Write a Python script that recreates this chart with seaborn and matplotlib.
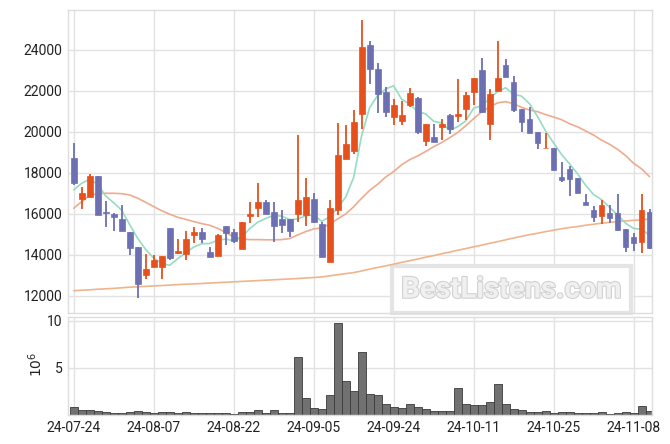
import numpy as np
import pandas as pd
import matplotlib
matplotlib.use("Agg")
import matplotlib.pyplot as plt
import matplotlib.patheffects as pe
import seaborn as sns

# trading-day index 0..72, labelled every 10 sessions
tick_pos = [0, 10, 20, 30, 40, 50, 60, 70]
tick_labels = ["24-07-24", "24-08-07", "24-08-22", "24-09-05",
               "24-09-24", "24-10-11", "24-10-25", "24-11-08"]

opens = [18720, 16750, 16850, 17850, 16110, 15990, 15740, 15120, 14390, 13040,
         13430, 13430, 15300, 14110, 14060, 14990, 15120, 14150, 13970, 15400,
         15120, 14290, 15890, 16280, 16570, 16080, 15760, 15760, 15990, 15950,
         16730, 15510, 13640, 16200, 18680, 19090, 20860, 24240, 23060, 21940,
         20750, 20550, 21330, 21640, 19580, 19770, 20260, 20830, 20800, 21140,
         21940, 23020, 20390, 22020, 23270, 22420, 21110, 20620, 20000, 19200,
         19210, 17810, 18180, 17740, 16590, 16200, 15920, 16030, 16030, 15250,
         14880, 14650, 16080]
highs = [19450, 17300, 17970, 17850, 16630, 16030, 16420, 15120, 14390, 14060,
         14000, 13950, 15300, 14780, 15170, 15380, 15300, 14400, 15000, 15400,
         15250, 15610, 16570, 17500, 16680, 16600, 16180, 15760, 19850, 17740,
         17040, 15630, 16680, 20420, 20340, 21070, 25460, 24450, 23350, 22210,
         21600, 21530, 22130, 21690, 20380, 20380, 20620, 20880, 22600, 21940,
         22620, 23600, 22080, 24450, 23550, 22750, 21110, 21210, 20000, 19940,
         19210, 18550, 18340, 17740, 16960, 16390, 16680, 16420, 16960, 15250,
         15060, 16990, 16230]
lows = [17420, 16230, 16850, 15970, 15350, 15170, 15170, 13990, 11890, 12830,
        13400, 12830, 13760, 14030, 13760, 14570, 14570, 13920, 13970, 14470,
        14570, 14290, 15550, 15870, 16000, 14650, 15060, 14860, 15600, 15430,
        15550, 13890, 13640, 15950, 18680, 18930, 20160, 22340, 20910, 20720,
        20340, 20330, 21230, 19900, 19320, 19500, 19610, 19900, 20500, 20590,
        21320, 20940, 19610, 22020, 22700, 20990, 20020, 19970, 19190, 19200,
        18150, 17580, 16880, 17010, 16420, 15630, 15500, 15580, 15190, 14160,
        14210, 14110, 14280]
closes = [17530, 17020, 17850, 15970, 16030, 15870, 15190, 14360, 12600, 13320,
          13760, 13950, 13850, 14200, 14800, 15120, 14770, 13920, 14980, 15090,
          14700, 15610, 16020, 16570, 16000, 15430, 15460, 15170, 16680, 16830,
          15630, 13890, 16280, 18880, 19400, 20470, 24130, 23060, 21840, 20960,
          21300, 20820, 21890, 20020, 20380, 19500, 20390, 20130, 20880, 21790,
          22620, 20990, 21850, 22620, 22700, 21070, 20500, 19970, 19480, 19220,
          18150, 17680, 17690, 17040, 16450, 15870, 16420, 15820, 15220, 14410,
          14600, 16210, 14330]
# volume in millions of shares
volumes = [0.85, 0.53, 0.53, 0.42, 0.28, 0.21, 0.21, 0.28, 0.39, 0.28,
           0.21, 0.28, 0.28, 0.21, 0.32, 0.21, 0.21, 0.21, 0.21, 0.21,
           0.11, 0.28, 0.28, 0.53, 0.21, 0.53, 0.21, 0.21, 6.20, 1.77,
           0.74, 0.64, 2.12, 9.75, 3.60, 2.54, 6.68, 2.23, 2.12, 1.17,
           0.85, 0.74, 1.17, 0.85, 0.64, 0.42, 0.42, 0.42, 2.86, 1.17,
           1.06, 1.06, 1.38, 3.29, 1.17, 0.64, 0.53, 0.32, 0.32, 0.42,
           0.21, 0.32, 0.32, 0.21, 0.21, 0.21, 0.32, 0.11, 0.21, 0.32,
           0.21, 0.95, 0.42]
# closes of the 4 sessions before the window (for the 5-day average)
pre_closes = [15400, 16880, 17190, 18870]
ma20 = [16280, 16600, 16900, 17000, 17010, 17010, 16990, 16930, 16770, 16570,
        16360, 16160, 15990, 15840, 15740, 15630, 15530, 15450, 15300, 15100,
        14880, 14790, 14750, 14750, 14740, 14740, 14750, 14800, 14980, 15140,
        15270, 15320, 15500, 15760, 16000, 16350, 16770, 17150, 17450, 17800,
        18070, 18400, 18650, 18830, 19050, 19280, 19480, 19720, 19970, 20300,
        20650, 20980, 21220, 21420, 21480, 21380, 21200, 21070, 20990, 20850,
        20730, 20600, 20400, 20250, 20050, 19850, 19600, 19400, 19150, 18850,
        18470, 18200, 17820]
ma120 = [12260, 12280, 12300, 12330, 12350, 12370, 12400, 12430, 12450, 12470,
         12490, 12510, 12530, 12555, 12575, 12590, 12610, 12630, 12650, 12670,
         12690, 12710, 12730, 12750, 12770, 12790, 12810, 12830, 12850, 12880,
         12900, 12930, 12980, 13040, 13090, 13140, 13220, 13310, 13390, 13470,
         13550, 13640, 13720, 13800, 13890, 13970, 14060, 14140, 14230, 14310,
         14400, 14480, 14570, 14650, 14740, 14830, 14910, 14990, 15060, 15140,
         15210, 15280, 15340, 15390, 15450, 15500, 15550, 15590, 15630, 15660,
         15690, 15720, 15750]

sns.set_theme(style="whitegrid")
plt.rcParams["font.family"] = ["Roboto", "DejaVu Sans"]
plt.rcParams["grid.color"] = "#e2e2e2"
plt.rcParams["grid.linewidth"] = 1.0

df = pd.DataFrame({"open": opens, "high": highs, "low": lows,
                   "close": closes, "volume": volumes,
                   "ma20": ma20, "ma120": ma120})
df["idx"] = np.arange(len(df))
df["ma5"] = pd.Series(pre_closes + closes).rolling(5).mean().iloc[4:].values
up = df["close"] >= df["open"]

UP = "#e5501c"
DOWN = "#6c70b2"

fig = plt.figure(figsize=(6.7, 4.44), dpi=100)
ax = fig.add_axes([68 / 670, 1 - 313 / 444, 584 / 670, 303 / 444])
axv = fig.add_axes([68 / 670, 1 - 415 / 444, 584 / 670, 98 / 444])

# moving averages
sns.lineplot(data=df, x="idx", y="ma120", ax=ax, color="#efb48c", lw=1.2, zorder=2)
sns.lineplot(data=df, x="idx", y="ma20", ax=ax, color="#eeab90", lw=1.2, zorder=2)
sns.lineplot(data=df, x="idx", y="ma5", ax=ax, color="#96dcc3", lw=1.2, zorder=2)

# candles
cols = np.where(up, UP, DOWN)
ax.vlines(df["idx"], df["low"], df["high"], colors=cols, lw=1.3, zorder=3)
body_lo = np.minimum(df["open"], df["close"])
body_h = np.maximum(np.abs(df["close"] - df["open"]), 40)
ax.bar(df["idx"], body_h, bottom=body_lo, width=0.72, color=cols,
       edgecolor=cols, linewidth=0.5, zorder=4)

ax.set_xlim(-0.71, 72.3)
ax.set_ylim(11170, 25950)
ax.set_yticks(range(12000, 24001, 2000))
ax.set_yticklabels([str(v) for v in range(12000, 24001, 2000)])
ax.set_xticks(tick_pos)
ax.set_xticklabels([])
ax.set_xlabel("")
ax.set_ylabel("")

ax.text(0.759, 0.077, "BestListens.com", transform=ax.transAxes,
        ha="center", va="center", fontsize=21, fontweight="bold",
        color="#f0f0f0", zorder=1,
        path_effects=[pe.withStroke(linewidth=1.6, foreground="#d2d2d2")],
        bbox=dict(boxstyle="square,pad=0.32", fc="white", ec="#e4e4e4", lw=3))

# volume
sns.barplot(data=df, x="idx", y="volume", ax=axv, native_scale=True,
            color="#717171", saturation=1, width=1.0,
            edgecolor="#3a3a3a", linewidth=0.6)
axv.set_xlim(-0.71, 72.3)
axv.set_ylim(0, 10.4)
axv.set_yticks([5, 10])
axv.set_yticklabels(["5", "10"])
axv.set_xticks(tick_pos)
axv.set_xticklabels(tick_labels)
axv.set_xlabel("")

for a in (ax, axv):
    a.tick_params(axis="both", labelsize=10, colors="#222222", length=0, pad=4)
    a.grid(True, axis="both")
    a.set_axisbelow(True)
    for s in a.spines.values():
        s.set_color("#dddddd")
        s.set_linewidth(1.0)

axv.set_ylabel("")
fig.text(36 / 670, 1 - 364 / 444, "$10^6$", rotation=90, ha="center",
         va="center", fontsize=10, color="#222222")

fig.savefig("out.png", dpi=100)
